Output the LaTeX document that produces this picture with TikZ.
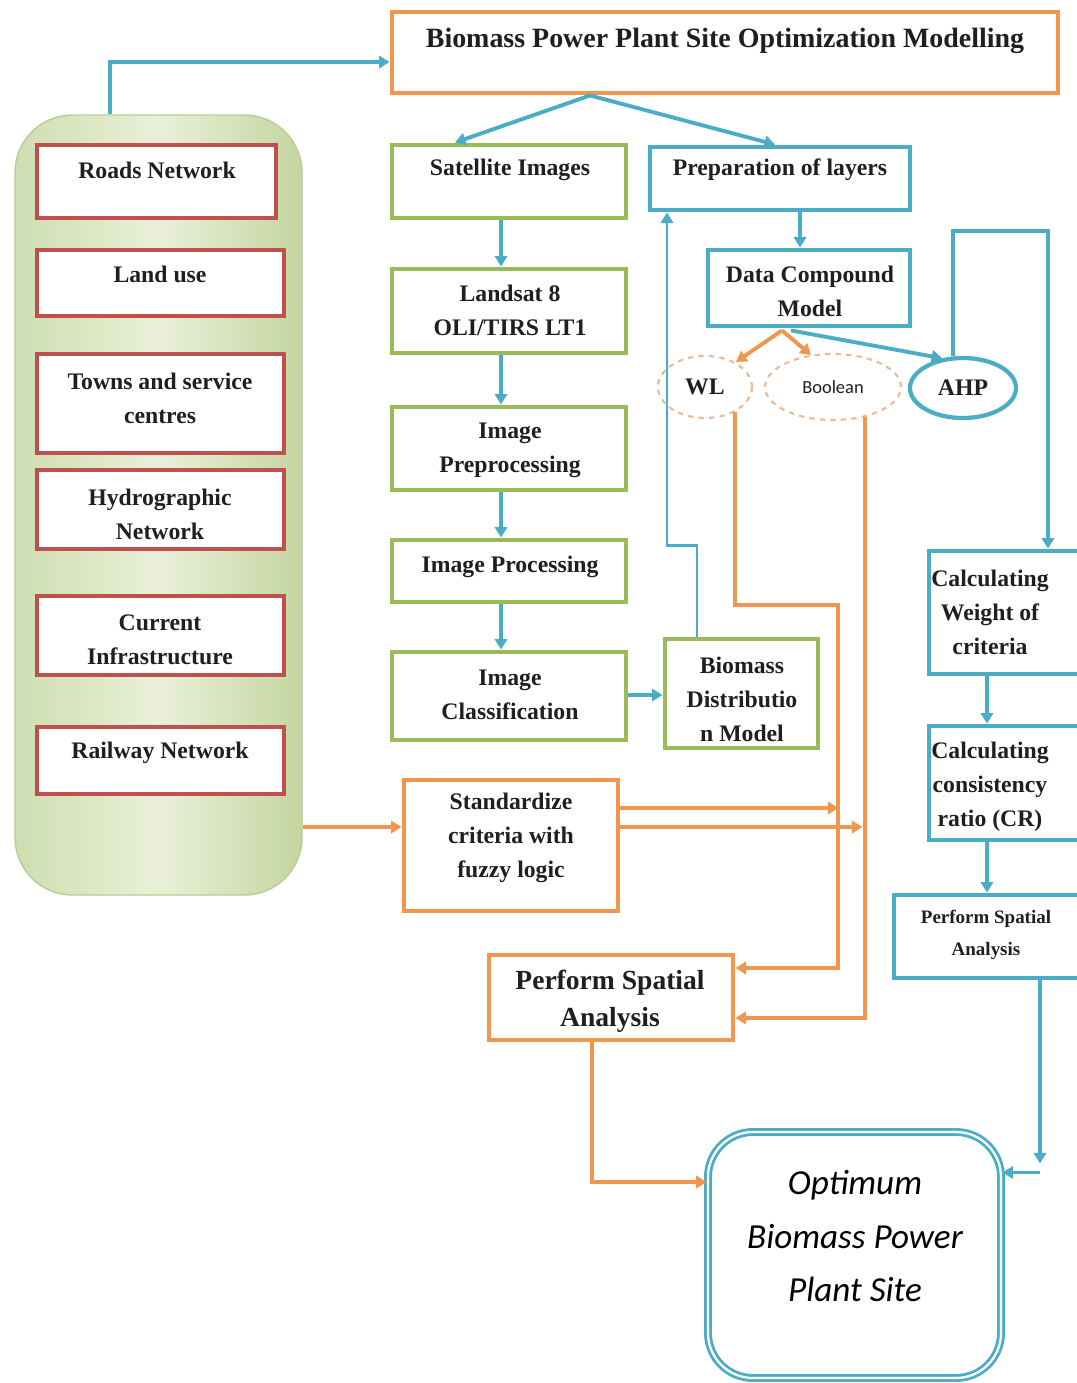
\documentclass[tikz,border=0pt]{standalone}
\usepackage{fontspec}
\setmainfont{Liberation Serif}
\newfontfamily\calib{Carlito}
\usetikzlibrary{arrows.meta,calc,shapes.geometric}
\definecolor{obl}{RGB}{75,172,198}
\definecolor{oor}{RGB}{240,150,78}
\definecolor{ogr}{RGB}{155,187,89}
\definecolor{ord}{RGB}{192,80,77}
\definecolor{pale}{RGB}{236,184,152}
\definecolor{pnlA}{RGB}{206,222,176}
\definecolor{pnlB}{RGB}{234,240,216}
\definecolor{pnlC}{RGB}{196,214,160}
\definecolor{pnlE}{RGB}{185,205,150}
\begin{document}
\begin{tikzpicture}[x=0.02cm,y=-0.02cm,
  box/.style 2 args={draw, fill=white, line width=2.8pt, inner sep=0pt,
    minimum width=#1*0.02cm, minimum height=#2*0.02cm},
  redbox/.style 2 args={box={#1}{#2}, draw=ord},
  grnbox/.style 2 args={box={#1}{#2}, draw=ogr},
  blubox/.style 2 args={box={#1}{#2}, draw=obl},
  orgbox/.style 2 args={box={#1}{#2}, draw=oor},
  lbl/.style={font=\bfseries\fontsize{13.5}{19.3}\selectfont, align=center,
    text=black!88, inner sep=0pt},
  tip/.style={-{Triangle[length=6pt,width=7pt]}},
  bl/.style={draw=obl, line width=2.2pt, tip},
  og/.style={draw=oor, line width=2.2pt, tip},
]
\useasboundingbox (0,0) rectangle (1076,1383);
\fill[white] (0,0) rectangle (1076,1383);

% input data panel
\node[draw=pnlE, line width=0.8pt, rounded corners=1.15cm,
  left color=pnlA, right color=pnlC, middle color=pnlB,
  minimum width=287*0.02cm, minimum height=780*0.02cm] (panel) at (158.5,505) {};

\node[redbox={239}{73}] (roads) at (156.5,181.5) {};
\node[lbl] (roadsT) at (157,170) {Roads Network};
\node[redbox={247}{66}] (land) at (160.5,283) {};
\node[lbl] (landT) at (160,274) {Land use};
\node[redbox={247}{99}] (towns) at (160.5,403.5) {};
\node[lbl] (townsT) at (160,398) {Towns and service\\centres};
\node[redbox={247}{79}] (hydro) at (160.5,509.5) {};
\node[lbl] (hydroT) at (160,514) {Hydrographic\\Network};
\node[redbox={247}{79}] (curr) at (160.5,635.5) {};
\node[lbl] (currT) at (160,640) {Current\\Infrastructure};
\node[redbox={247}{67}] (rail) at (160.5,760.5) {};
\node[lbl] (railT) at (160,753) {Railway Network};

% title
\node[orgbox={666}{81}] (title) at (725,52.5) {};
\node[lbl, font=\bfseries\fontsize{15.9}{18}\selectfont] (titleT) at (725,41)
  {Biomass Power Plant Site Optimization Modelling};

% image chain
\node[grnbox={234}{73}] (sat) at (509,181.5) {};
\node[lbl] (satT) at (510,170) {Satellite Images};
\node[grnbox={234}{84}] (lsat) at (509,311) {};
\node[lbl] (lsatT) at (510,310) {Landsat 8\\OLI/TIRS LT1};
\node[grnbox={234}{83}] (pre) at (509,448.5) {};
\node[lbl] (preT) at (510,450) {Image\\Preprocessing};
\node[grnbox={234}{62}] (proc) at (509,571) {};
\node[lbl] (procT) at (510,567) {Image Processing};
\node[grnbox={234}{88}] (cls) at (509,696) {};
\node[lbl] (clsT) at (510,695) {Image\\Classification};
\node[grnbox={153}{109}] (bdm) at (741.5,693.5) {};
\node[lbl] (bdmT) at (742,699) {Biomass\\Distributio\\n Model};

% layers and models
\node[blubox={260}{63}] (prep) at (780,178.5) {};
\node[lbl] (prepT) at (780,170) {Preparation of layers};
\node[blubox={202}{76}] (dcm) at (809,288) {};
\node[lbl] (dcmT) at (810,291) {Data Compound\\Model};
\node[ellipse, draw=pale, dashed, line width=1.2pt, minimum width=94*0.02cm,
  minimum height=62*0.02cm] (wl) at (705,387) {};
\node[lbl] (wlT) at (705,387) {WL};
\node[ellipse, draw=pale, dashed, line width=1.2pt, minimum width=136*0.02cm,
  minimum height=66*0.02cm] (bool) at (833,387) {};
\node[lbl, font=\calib\fontsize{10.5}{12}\selectfont] (boolT) at (833,387) {Boolean};
\node[ellipse, draw=obl, line width=2.4pt, minimum width=106*0.02cm,
  minimum height=60*0.02cm] (ahp) at (963,388) {};
\node[lbl] (ahpT) at (963,388) {AHP};

% AHP column
\node[blubox={151}{123}] (cw) at (1004.5,612.5) {};
\node[lbl] (cwT) at (990,612) {Calculating\\Weight of\\criteria};
\node[blubox={151}{114}] (cr) at (1004.5,783) {};
\node[lbl] (crT) at (990,787) {Calculating\\consistency\\ratio (CR)};
\node[blubox={186}{83}] (psab) at (987,936.5) {};
\node[lbl, font=\bfseries\fontsize{10.8}{18}\selectfont] (psabT) at (986,935)
  {Perform Spatial\\Analysis};

% fuzzy branch
\node[orgbox={214}{131}] (std) at (511,845.5) {};
\node[lbl] (stdT) at (511,838) {Standardize\\criteria with\\fuzzy logic};
\node[orgbox={244}{85}] (psao) at (611,997.5) {};
\node[lbl, font=\bfseries\fontsize{15.7}{21}\selectfont] (psaoT) at (610,1001)
  {Perform Spatial\\Analysis};

% result
\node[draw=obl, double=white, double distance=1.3pt, line width=1.6pt,
  rounded corners=0.9cm, fill=white, minimum width=293*0.02cm,
  minimum height=246*0.02cm] (opt) at (854.5,1255) {};
\node[lbl, font=\calib\itshape\fontsize{20}{30.6}\selectfont, text=black] (optT)
  at (855,1236) {Optimum\\Biomass Power\\Plant Site};

% connectors
\draw[bl] ($(panel.north)+(-48.5,0)$) |- ($(title.west)+(0,9.5)$);
\draw[bl] ($(title.south)+(-135,0)$) -- ($(sat.north)+(-54,0)$);
\draw[bl] ($(title.south)+(-135,0)$) -- ($(prep.north)+(-5,0)$);
\draw[bl] ($(sat.south)+(-8,0)$) -- ($(lsat.north)+(-8,0)$);
\draw[bl] ($(lsat.south)+(-8,0)$) -- ($(pre.north)+(-8,0)$);
\draw[bl] ($(pre.south)+(-8,0)$) -- ($(proc.north)+(-8,0)$);
\draw[bl] ($(proc.south)+(-8,0)$) -- ($(cls.north)+(-8,0)$);
\coordinate (clsOut) at ($(cls.east)+(0,-1)$);
\draw[bl] (clsOut) -- (clsOut -| bdm.west);
\draw[bl, line width=1.6pt] ($(bdm.north)+(-44.5,0)$) -- ++(0,-91)
  -| ($(prep.south)+(-113,0)$);
\draw[bl] ($(prep.south)+(20,0)$) -- ($(dcm.north)+(-9,0)$);
\draw[og] ($(dcm.south)+(-27,2)$) -- ($(wl.north)+(31,7)$);
\draw[og] ($(dcm.south)+(-27,2)$) -- ($(bool.north)+(-22,2)$);
\draw[bl] ($(dcm.south)+(-18,2)$) -- (ahp.125);
\draw[bl] ($(ahp.north)+(-10,0)$) -- ++(0,-125) -| ($(cw.north)+(43.5,0)$);
\draw[og] ($(wl.south)+(30,-7)$) -- ++(0,193) -- ++(103,0)
  |- ($(psao.east)+(0,-29.5)$);
\draw[og] ($(bool.south)+(32,-4)$) |- ($(psao.east)+(0,20.5)$);
\draw[og] ($(panel.east)+(0,322)$) -- ($(std.west)+(0,-18.5)$);
\draw[og] ($(std.east)+(0,-37.5)$) -- ++(218,0);
\draw[og] ($(std.east)+(0,-18.5)$) -- ++(242,0);
\draw[og] ($(psao.south)+(-19,0)$) |- ($(opt.west)+(0,-73)$);
\draw[bl] ($(cw.south)+(-17.5,0)$) -- ($(cr.north)+(-17.5,0)$);
\draw[bl] ($(cr.south)+(-17.5,0)$) -- (psab.north);
\coordinate (psabDrop) at ($(psab.south)+(53,0)$);
\coordinate (psabTurn) at ($(psab.south)+(53,192)$);
\draw[bl, line width=1.8pt] (psabDrop) -- ++(0,183);
\draw[bl, line width=1.8pt] (psabTurn) -- (psabTurn -| opt.east);
\end{tikzpicture}
\end{document}
